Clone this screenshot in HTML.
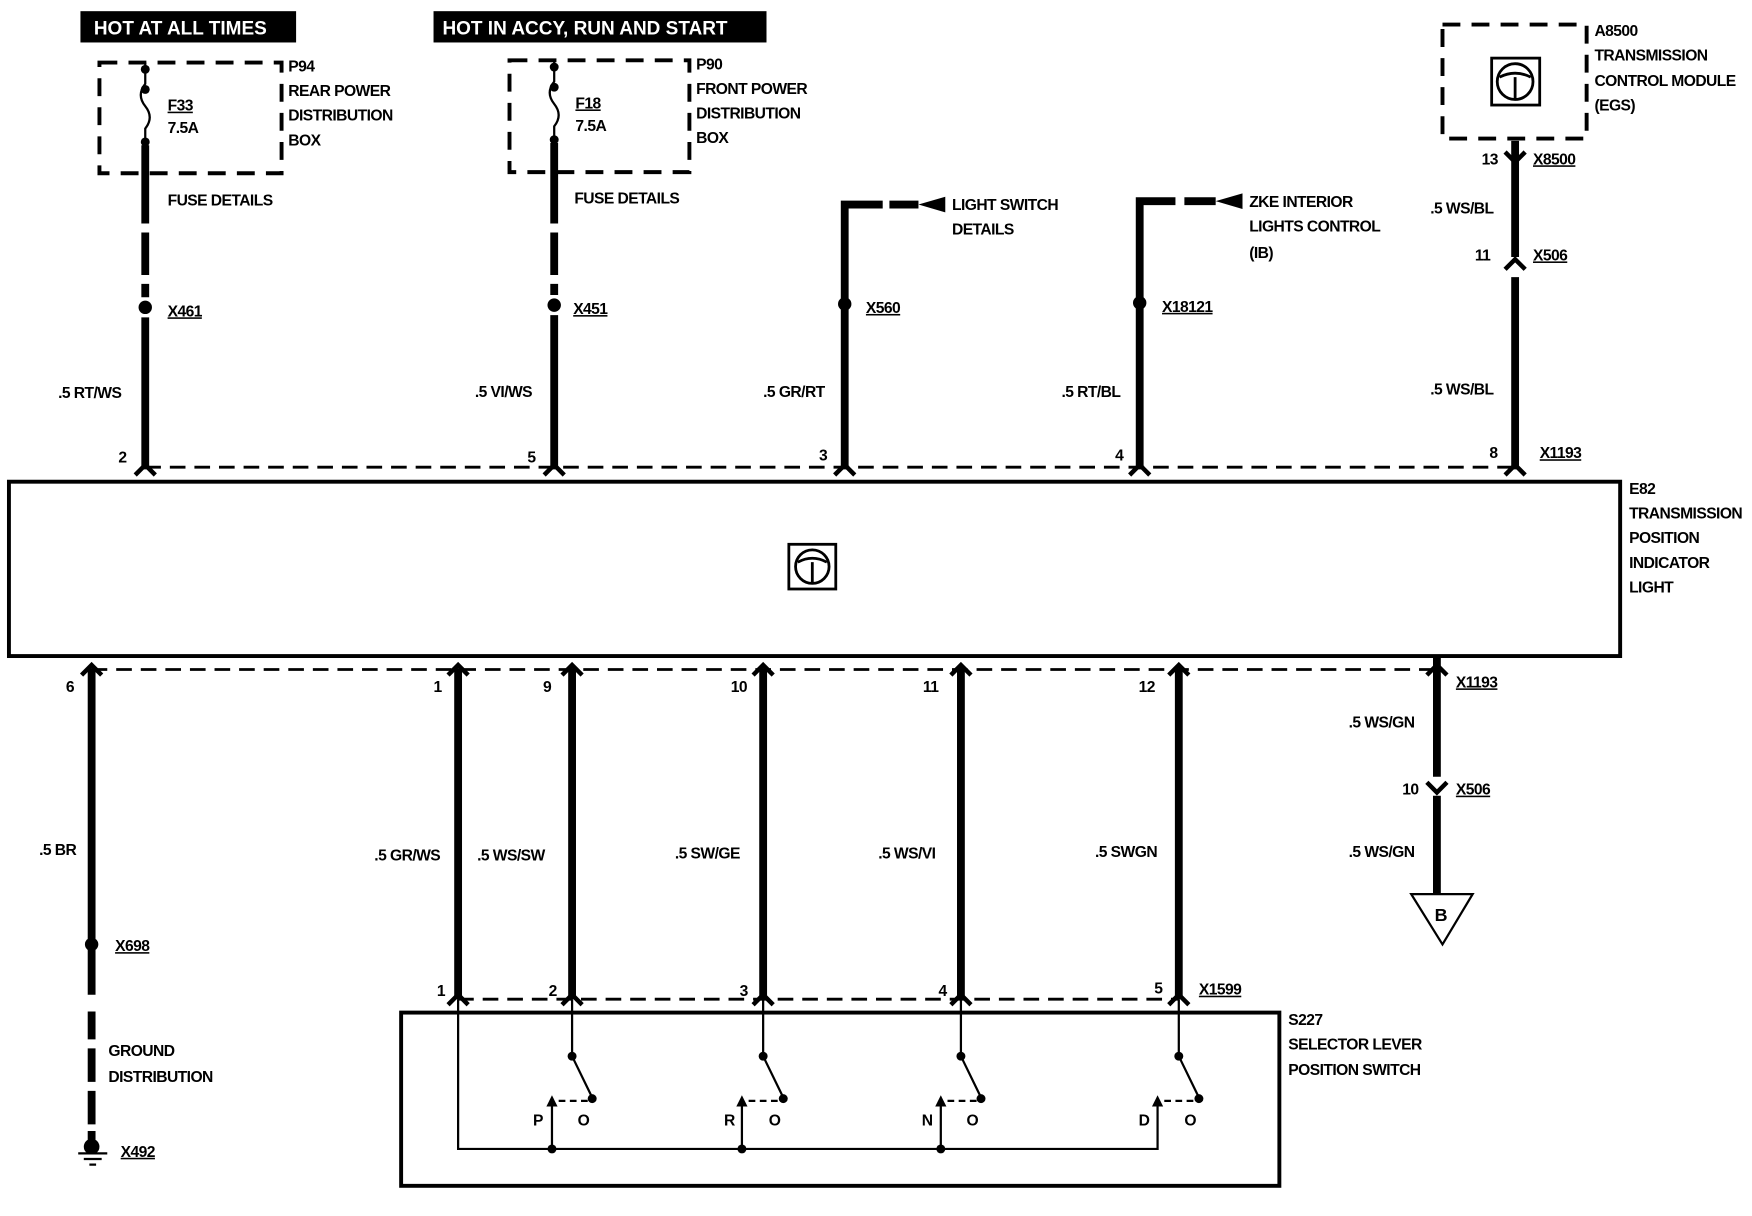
<!DOCTYPE html>
<html><head><meta charset="utf-8"><style>
html,body{margin:0;padding:0;background:#fff;}
svg{display:block;}
text{font-family:"Liberation Sans",Arial,sans-serif;font-weight:bold;font-size:14px;fill:#000;letter-spacing:-0.5px;}
</style></head><body>
<svg width="1752" height="1216" viewBox="0 0 1568 1088" preserveAspectRatio="none" xmlns="http://www.w3.org/2000/svg">
<rect width="1568" height="1088" fill="#fff"/>
<rect x="72" y="10" width="193" height="28" fill="#000"/>
<text x="84" y="31" style="fill:#fff;font-size:17px;letter-spacing:0">HOT AT ALL TIMES</text>
<rect x="388" y="10" width="298" height="28" fill="#000"/>
<text x="396" y="31" style="fill:#fff;font-size:17px;letter-spacing:0">HOT IN ACCY, RUN AND START</text>

<g fill="none" stroke="#000">
<rect x="89" y="56" width="163" height="99" stroke-width="3.5" stroke-dasharray="16,10"/>
<rect x="456" y="54" width="161" height="100" stroke-width="3.5" stroke-dasharray="16,10"/>
<rect x="1291" y="22" width="129" height="102" stroke-width="3.5" stroke-dasharray="16,10"/>
<path d="M130 56 V75 Q122 85 130 95 Q138 105 130 115 V152" stroke-width="2"/>
<path d="M496 54 V73 Q488 83 496 93 Q504 103 496 113 V152" stroke-width="2"/>
</g>
<g fill="#000">
<circle cx="130" cy="62" r="4"/><circle cx="130" cy="80" r="4"/><circle cx="130" cy="127" r="4"/>
<circle cx="496" cy="60" r="4"/><circle cx="496" cy="78" r="4"/><circle cx="496" cy="125" r="4"/>
</g>
<g stroke="#000" stroke-width="7" fill="none">
<path d="M130 130 V200"/><path d="M130 208 V246 M130 254 V266"/><path d="M130 284 V420"/>
<path d="M496 128 V200"/><path d="M496 208 V246 M496 254 V264"/><path d="M496 282 V420"/>
<path d="M756 420 V183 H790"/><path d="M796 183 H822"/>
<path d="M1020 420 V180 H1052"/><path d="M1060 180 H1088"/>
<path d="M1356 126 V230"/><path d="M1356 248 V420"/>
</g>
<g fill="#000">
<polygon points="822,176 846,183 822,190" transform="rotate(180 834 183)"/>
<polygon points="1088,173 1112,180 1088,187" transform="rotate(180 1100 180)"/>
<circle cx="130" cy="275" r="6"/><circle cx="496" cy="273" r="6"/>
<circle cx="756" cy="272" r="6"/><circle cx="1020" cy="271" r="6"/>
</g>
<g stroke="#000" stroke-width="4" fill="none">
<path d="M121 425 L130 416 L139 425"/><path d="M487 425 L496 416 L505 425"/>
<path d="M747 425 L756 416 L765 425"/><path d="M1011 425 L1020 416 L1029 425"/>
<path d="M1347 425 L1356 416 L1365 425"/>
<path d="M1347 136 L1356 145 L1365 136"/>
<path d="M1347 241 L1356 232 L1365 241"/>
<path d="M73 604 L82 595 L91 604"/><path d="M401 604 L410 595 L419 604"/>
<path d="M503 604 L512 595 L521 604"/><path d="M674 604 L683 595 L692 604"/>
<path d="M851 604 L860 595 L869 604"/><path d="M1046 604 L1055 595 L1064 604"/>
<path d="M1277 604 L1286 595 L1295 604"/>
<path d="M1277 700 L1286 709 L1295 700"/>
<path d="M401 899 L410 890 L419 899"/><path d="M503 899 L512 890 L521 899"/>
<path d="M674 899 L683 890 L692 899"/><path d="M851 899 L860 890 L869 899"/>
<path d="M1046 899 L1055 890 L1064 899"/>
</g>
<g stroke="#000" stroke-width="2.5" stroke-dasharray="14,8" fill="none">
<path d="M130 418 H1356"/>
<path d="M82 599 H1286"/>
<path d="M410 894 H1055"/>
</g>
<rect x="8" y="431" width="1442" height="156" fill="none" stroke="#000" stroke-width="3.5"/>
<g fill="none" stroke="#000" stroke-width="2.5">
<rect x="706" y="487" width="42" height="40"/><circle cx="727" cy="507" r="15"/>
<path d="M714 503 Q727 496 740 503 M727 503 V522"/>
<rect x="1335" y="52" width="43" height="42"/><circle cx="1356" cy="73" r="16"/>
<path d="M1342 69 Q1356 62 1370 69 M1356 69 V89"/>
</g>
<g stroke="#000" stroke-width="7" fill="none">
<path d="M82 598 V890"/><path d="M82 905 V930 M82 938 V968 M82 976 V1006 M82 1012 V1020"/>
<path d="M410 598 V894"/><path d="M512 598 V894"/><path d="M683 598 V894"/>
<path d="M860 598 V894"/><path d="M1055 598 V894"/>
<path d="M1286 587 V695"/><path d="M1286 712 V800"/>
</g>
<g fill="#000"><circle cx="82" cy="845" r="6"/><circle cx="82" cy="1026" r="7"/></g>
<g stroke="#000" stroke-width="2" fill="none">
<path d="M70 1032 H96 M75 1037 H91 M80 1042 H86"/>
<polygon points="1263,800 1318,800 1291,845"/>
</g>
<rect x="359" y="906" width="786" height="155" fill="none" stroke="#000" stroke-width="3.5"/>
<g stroke="#000" stroke-width="2" fill="none">
<path d="M410 894 V1028 H1036 V988"/>
<path d="M512 894 V945 L530 982"/><path d="M683 894 V945 L701 982"/>
<path d="M860 894 V945 L878 982"/><path d="M1055 894 V945 L1073 982"/>
<path d="M494 988 V1028 M664 988 V1028 M842 988 V1028"/>
<path d="M500 985 H526 M670 985 H696 M848 985 H874 M1042 985 H1068" stroke-dasharray="6,4"/>
</g>
<g fill="#000">
<circle cx="512" cy="945" r="4"/><circle cx="683" cy="945" r="4"/><circle cx="860" cy="945" r="4"/><circle cx="1055" cy="945" r="4"/>
<circle cx="530" cy="983" r="4"/><circle cx="701" cy="983" r="4"/><circle cx="878" cy="983" r="4"/><circle cx="1073" cy="983" r="4"/>
<polygon points="489,990 494,980 499,990"/><polygon points="659,990 664,980 669,990"/>
<polygon points="837,990 842,980 847,990"/><polygon points="1031,990 1036,980 1041,990"/>
<circle cx="494" cy="1028" r="4"/><circle cx="664" cy="1028" r="4"/><circle cx="842" cy="1028" r="4"/>
</g>

<text x="258" y="64">P94</text><text x="258" y="86">REAR POWER</text><text x="258" y="108">DISTRIBUTION</text><text x="258" y="130">BOX</text>
<text x="150" y="99" text-decoration="underline">F33</text><text x="150" y="119">7.5A</text>
<text x="150" y="184">FUSE DETAILS</text>
<text x="150" y="283" text-decoration="underline">X461</text>
<text x="52" y="356">.5 RT/WS</text><text x="106" y="414">2</text>

<text x="623" y="62">P90</text><text x="623" y="84">FRONT POWER</text><text x="623" y="106">DISTRIBUTION</text><text x="623" y="128">BOX</text>
<text x="515" y="97" text-decoration="underline">F18</text><text x="515" y="117">7.5A</text>
<text x="514" y="182">FUSE DETAILS</text>
<text x="513" y="281" text-decoration="underline">X451</text>
<text x="425" y="355">.5 VI/WS</text><text x="472" y="414">5</text>

<text x="852" y="188">LIGHT SWITCH</text><text x="852" y="210">DETAILS</text>
<text x="775" y="280" text-decoration="underline">X560</text>
<text x="683" y="355">.5 GR/RT</text><text x="733" y="412">3</text>

<text x="1118" y="185">ZKE INTERIOR</text><text x="1118" y="207">LIGHTS CONTROL</text><text x="1118" y="231">(IB)</text>
<text x="1040" y="279" text-decoration="underline">X18121</text>
<text x="950" y="355">.5 RT/BL</text><text x="998" y="412">4</text>

<text x="1427" y="32">A8500</text><text x="1427" y="54">TRANSMISSION</text><text x="1427" y="77">CONTROL MODULE</text><text x="1427" y="99">(EGS)</text>
<text x="1326" y="147">13</text><text x="1372" y="147" text-decoration="underline">X8500</text>
<text x="1280" y="191">.5 WS/BL</text>
<text x="1320" y="233">11</text><text x="1372" y="233" text-decoration="underline">X506</text>
<text x="1280" y="353">.5 WS/BL</text>
<text x="1333" y="410">8</text><text x="1378" y="410" text-decoration="underline">X1193</text>

<text x="1458" y="442">E82</text><text x="1458" y="464">TRANSMISSION</text><text x="1458" y="486">POSITION</text><text x="1458" y="508">INDICATOR</text><text x="1458" y="530">LIGHT</text>

<text x="59" y="619">6</text><text x="388" y="619">1</text><text x="486" y="619">9</text><text x="654" y="619">10</text><text x="826" y="619">11</text><text x="1019" y="619">12</text>
<text x="1303" y="615" text-decoration="underline">X1193</text>
<text x="1207" y="651">.5 WS/GN</text>
<text x="1255" y="711">10</text><text x="1303" y="711" text-decoration="underline">X506</text>
<text x="1207" y="767">.5 WS/GN</text>
<text x="1284" y="824" style="font-size:16px">B</text>

<text x="35" y="765">.5 BR</text>
<text x="103" y="851" text-decoration="underline">X698</text>
<text x="97" y="945">GROUND</text><text x="97" y="968">DISTRIBUTION</text>
<text x="108" y="1035" text-decoration="underline">X492</text>

<text x="335" y="770">.5 GR/WS</text><text x="427" y="770">.5 WS/SW</text><text x="604" y="768">.5 SW/GE</text><text x="786" y="768">.5 WS/VI</text><text x="980" y="767">.5 SWGN</text>

<text x="391" y="891">1</text><text x="491" y="891">2</text><text x="662" y="891">3</text><text x="840" y="891">4</text><text x="1033" y="889">5</text>
<text x="1073" y="890" text-decoration="underline">X1599</text>
<text x="1153" y="917">S227</text><text x="1153" y="939">SELECTOR LEVER</text><text x="1153" y="962">POSITION SWITCH</text>

<text x="477" y="1007">P</text><text x="517" y="1007">O</text>
<text x="648" y="1007">R</text><text x="688" y="1007">O</text>
<text x="825" y="1007">N</text><text x="865" y="1007">O</text>
<text x="1019" y="1007">D</text><text x="1060" y="1007">O</text>
</svg>
</body></html>
